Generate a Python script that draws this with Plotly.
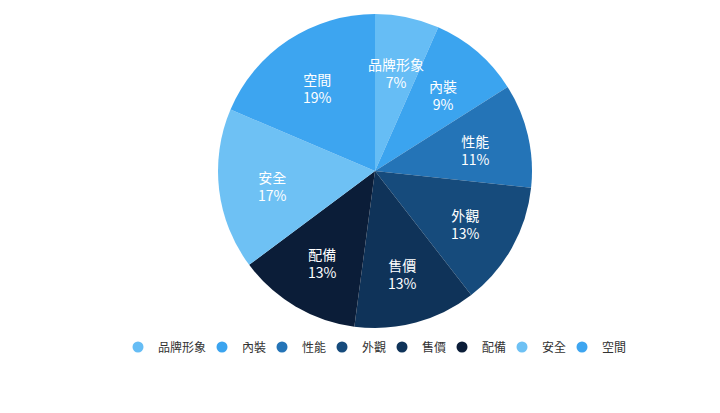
import math
import plotly.graph_objects as go

labels = ["品牌形象", "內裝", "性能", "外觀", "售價", "配備", "安全", "空間"]
values = [6.6, 9.4, 10.7, 12.8, 12.6, 12.7, 16.6, 18.6]
colors = ["#66BDF5", "#3BA4EF", "#2474B7", "#164B7C", "#0F3359", "#0B1D38", "#6EC1F4", "#3DA5F0"]

# page body has an 8px margin, so the figure is a bit smaller than the window
W, H = 704, 397
cx, cy, r = 367, 163, 157
dom = dict(x=[(cx - r) / W, (cx + r) / W], y=[1 - (cy + r) / H, 1 - (cy - r) / H])

fig = go.Figure()

fig.add_trace(go.Pie(
    labels=labels,
    values=values,
    sort=False,
    direction="clockwise",
    rotation=0,
    marker=dict(colors=colors, line=dict(width=0)),
    textinfo="none",
    showlegend=False,
    hoverinfo="label+percent",
    domain=dom,
))

# slice labels, all at ~0.66 of the radius like the original
total = sum(values)
cum = 0
for l, v in zip(labels, values):
    a = math.radians((cum + v / 2) / total * 360)
    cum += v
    fig.add_annotation(
        x=(cx + 0.66 * r * math.sin(a)) / W,
        y=1 - (cy + 3 - 0.66 * r * math.cos(a)) / H,
        xref="paper", yref="paper",
        xanchor="center", yanchor="middle",
        text="%s<br>%d%%" % (l, round(v / total * 100)),
        showarrow=False,
        font=dict(color="white", size=14, family="Noto Sans CJK TC"),
    )

# circle legend markers, one small legend per item so spacing stays tight
lx = 110
legends = {}
for i, (name, c) in enumerate(zip(labels, colors)):
    key = "legend" if i == 0 else "legend%d" % (i + 1)
    fig.add_trace(go.Scatter(
        x=[None], y=[None], mode="markers", name=name,
        marker=dict(color=c, size=11, symbol="circle"),
        showlegend=True, legend=key,
    ))
    legends[key] = dict(
        x=lx / W, xanchor="left",
        y=1 - 339 / H, yanchor="middle",
        bgcolor="rgba(0,0,0,0)",
        font=dict(size=12, color="#333333", family="Noto Sans CJK TC"),
        itemclick=False,
    )
    lx += 36 + 12 * len(name)

fig.update_layout(
    width=W, height=H,
    margin=dict(l=0, r=0, t=0, b=0),
    paper_bgcolor="white",
    plot_bgcolor="white",
    xaxis=dict(visible=False),
    yaxis=dict(visible=False),
    **legends,
)

fig.write_html("out.html")
